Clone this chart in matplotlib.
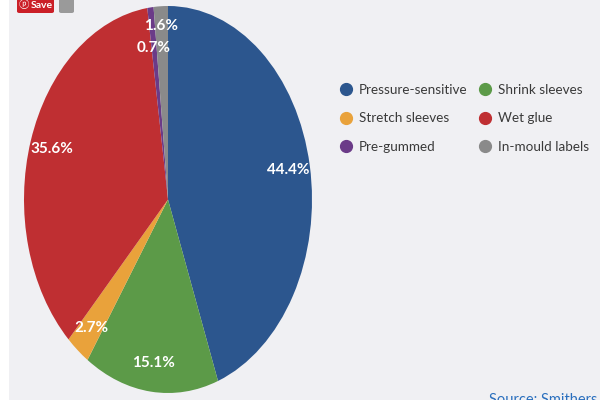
import numpy as np
import matplotlib
matplotlib.use("Agg")
import matplotlib.pyplot as plt
from matplotlib.lines import Line2D
from matplotlib.patches import Rectangle, FancyBboxPatch

labels = ["Pressure-sensitive", "Shrink sleeves", "Stretch sleeves",
          "Wet glue", "Pre-gummed", "In-mould labels"]
shares = [44.4, 15.1, 2.7, 35.6, 0.7, 1.6]
colors = ["#2c568e", "#5c9a48", "#e9a23b", "#bf2f32", "#6b3b88", "#8a8a8a"]
label_r = [0.85, 0.85, 0.85, 0.85, 0.79, 0.90]

bg = "#f0f0f3"
fig = plt.figure(figsize=(6, 4), dpi=100, facecolor=bg)
fig.patches.append(Rectangle((0, 0), 9 / 600, 1, transform=fig.transFigure,
                             facecolor="white", edgecolor="none", zorder=0))

# pie is stretched in the reference, so axes aspect stays auto
ax = fig.add_axes([24 / 600, 7 / 400, 288 / 600, 387 / 400])
ax.set_facecolor("none")
wedges, _ = ax.pie(shares, colors=colors, startangle=90, counterclock=False,
                   radius=1, wedgeprops=dict(linewidth=0))
ax.set_aspect("auto")
ax.set_xlim(-1, 1)
ax.set_ylim(-1, 1)
ax.axis("off")

for w, v, r in zip(wedges, shares, label_r):
    mid = np.deg2rad((w.theta1 + w.theta2) / 2)
    ax.text(r * np.cos(mid), r * np.sin(mid), f"{v}%", color="white",
            fontsize=11, fontweight="bold", family=["Lato", "DejaVu Sans"],
            ha="center", va="center")

# legend, filled row by row
order = [0, 2, 4, 1, 3, 5]
handles = [Line2D([], [], marker="o", linestyle="none", markersize=8.5,
                  markerfacecolor=colors[i], markeredgecolor=colors[i])
           for i in order]
leg = fig.legend(handles, [labels[i] for i in order], ncol=2,
                 loc="upper left", bbox_to_anchor=(341 / 600, 1 - 84 / 400),
                 frameon=False, prop=dict(family="Lato", size=9.7),
                 handlelength=0.8, handletextpad=0.55, columnspacing=0.9,
                 labelspacing=1.22, borderpad=0, borderaxespad=0)
for t in leg.get_texts():
    t.set_color("#3a3a3a")

# save / zoom buttons at top left
fig.patches.append(FancyBboxPatch((17 / 600, 387 / 400), 37 / 600, 20 / 400,
                                  boxstyle="round,pad=0,rounding_size=0.004",
                                  transform=fig.transFigure,
                                  facecolor="#cb1f27", edgecolor="none"))
fig.text(19 / 600, 1 - 5 / 400, "\u24df", color="white", fontsize=7.5,
         family=["Noto Sans CJK JP", "DejaVu Sans"], va="center", ha="left")
fig.text(31 / 600, 1 - 5 / 400, "Save", color="white", fontsize=7.5,
         fontweight="bold", family=["Lato", "DejaVu Sans"],
         va="center", ha="left")
fig.patches.append(FancyBboxPatch((59 / 600, 387 / 400), 15 / 600, 20 / 400,
                                  boxstyle="round,pad=0,rounding_size=0.004",
                                  transform=fig.transFigure,
                                  facecolor="#9a9a9a", edgecolor="none"))

fig.text(489 / 600, 7 / 400, "Source: Smithers", color="#2a6fbe",
         fontsize=10.5, family=["Lato", "DejaVu Sans"], ha="left", va="top")

fig.savefig("out.png", dpi=100, facecolor=bg)
